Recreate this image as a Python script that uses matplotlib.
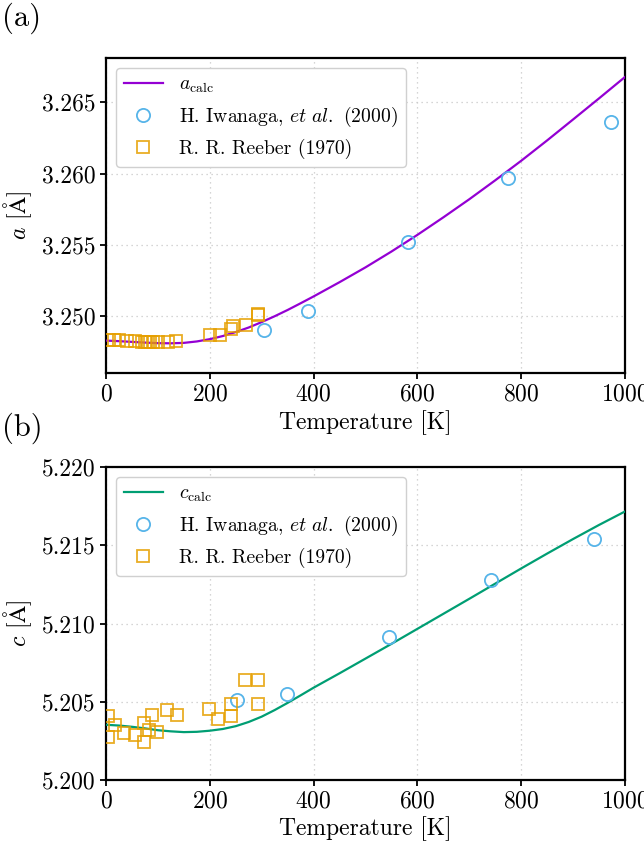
import matplotlib
matplotlib.use('Agg')
import matplotlib.pyplot as plt
from matplotlib.ticker import FormatStrFormatter, MultipleLocator

matplotlib.rcParams.update({
    'font.family': 'serif',
    'font.serif': ['cmr10', 'DejaVu Serif'],
    'mathtext.fontset': 'cm',
    'axes.unicode_minus': False,
    'axes.formatter.use_mathtext': True,
    'font.size': 17,
})

# calculated lattice constants (a and c) vs temperature
T_calc = [0, 25, 50, 75, 100, 125, 150, 175, 200, 225, 250, 275, 300,
          325, 350, 375, 400, 425, 450, 475, 500, 550, 600, 650, 700,
          750, 800, 850, 900, 950, 1000]
a_calc = [3.24828, 3.24824, 3.24819, 3.24814, 3.24810, 3.24809, 3.24812,
          3.24822, 3.24838, 3.24860, 3.24888, 3.24920, 3.24958, 3.24999,
          3.25043, 3.25090, 3.25138, 3.25188, 3.25238, 3.25290, 3.25342,
          3.25453, 3.25570, 3.25693, 3.25820, 3.25953, 3.26090, 3.26233,
          3.26380, 3.26528, 3.26678]
c_calc = [5.20353, 5.20348, 5.20340, 5.20330, 5.20318, 5.20311, 5.20306,
          5.20308, 5.20315, 5.20326, 5.20344, 5.20371, 5.20405, 5.20447,
          5.20493, 5.20541, 5.20590, 5.20636, 5.20682, 5.20729, 5.20776,
          5.20870, 5.20966, 5.21062, 5.21158, 5.21255, 5.21352, 5.21447,
          5.21540, 5.21630, 5.21716]

# H. Iwanaga et al. (2000)
T_iwa_a = [305, 390, 582, 775, 973]
a_iwa = [3.24902, 3.25035, 3.25518, 3.25972, 3.26360]
T_iwa_c = [253, 349, 546, 741, 941]
c_iwa = [5.20513, 5.20549, 5.20913, 5.21280, 5.21542]

# R. R. Reeber (1970)
T_ree_a = [5, 15, 25, 40, 55, 70, 75, 80, 85, 90, 100, 120, 135,
           200, 220, 240, 245, 270, 293, 293]
a_ree = [3.24830, 3.24832, 3.24830, 3.24828, 3.24823, 3.24820, 3.24819,
         3.24819, 3.24820, 3.24821, 3.24821, 3.24819, 3.24828,
         3.24865, 3.24870, 3.24912, 3.24928, 3.24935, 3.25005, 3.25016]
T_ree_c = [4.5, 4.5, 17, 35, 55, 74, 74, 83, 99, 88, 118, 136,
           199, 216, 240, 240, 268, 292, 293]
c_ree = [5.20406, 5.20278, 5.20353, 5.20300, 5.20289, 5.20246, 5.20364,
         5.20321, 5.20306, 5.20413, 5.20449, 5.20417,
         5.20455, 5.20391, 5.20406, 5.20487, 5.20641, 5.20641, 5.20485]

col_a = '#9400D3'
col_c = '#009E73'
col_iwa = '#56B4E9'
col_ree = '#E69F00'

fig = plt.figure(figsize=(6.44, 8.46), dpi=100)
ax1 = fig.add_axes([0.1646, 0.559, 0.806, 0.3723])
ax2 = fig.add_axes([0.1646, 0.078, 0.806, 0.370])


def setup(ax, T_c, y_c, lab_c, col, T_i, y_i, T_r, y_r, ylab):
    ax.plot(T_c, y_c, color=col, lw=1.6, label=lab_c, zorder=3)
    ax.plot(T_i, y_i, 'o', ms=9.5, mfc='none', mec=col_iwa, mew=1.3,
            label=r'H. Iwanaga, $\mathit{et\ al.}$ (2000)', zorder=4)
    ax.plot(T_r, y_r, 's', ms=9, mfc='none', mec=col_ree, mew=1.3,
            alpha=0.85, label='R. R. Reeber (1970)', zorder=4)
    ax.set_xlim(0, 1000)
    ax.xaxis.set_major_locator(MultipleLocator(200))
    ax.yaxis.set_major_locator(MultipleLocator(0.005))
    ax.yaxis.set_major_formatter(FormatStrFormatter('%.3f'))
    ax.grid(True, ls=(0, (1, 3)), color='#c8c8c8', lw=0.9)
    ax.set_axisbelow(True)
    for s in ax.spines.values():
        s.set_linewidth(1.6)
    ax.tick_params(width=1.3, length=4, labelsize=17)
    ax.set_xlabel('Temperature [K]', fontsize=17, labelpad=3)
    ax.set_ylabel(ylab, fontsize=17, labelpad=6)
    leg = ax.legend(loc='upper left', fontsize=14.2, fancybox=True,
                    framealpha=1, edgecolor='#d0d0d0')
    leg.get_frame().set_linewidth(1.0)


setup(ax1, T_calc, a_calc, r'$a_{\rm calc}$', col_a, T_iwa_a, a_iwa,
      T_ree_a, a_ree, r'$a$ [$\mathrm{\AA}$]')
ax1.set_ylim(3.2460, 3.2681)

setup(ax2, T_calc, c_calc, r'$c_{\rm calc}$', col_c, T_iwa_c, c_iwa,
      T_ree_c, c_ree, r'$c$ [$\mathrm{\AA}$]')
ax2.set_ylim(5.200, 5.220)

fig.text(0.003, 0.978, '(a)', fontsize=22, va='center', ha='left')
fig.text(0.003, 0.494, '(b)', fontsize=22, va='center', ha='left')

plt.savefig('out.png', dpi=100)
